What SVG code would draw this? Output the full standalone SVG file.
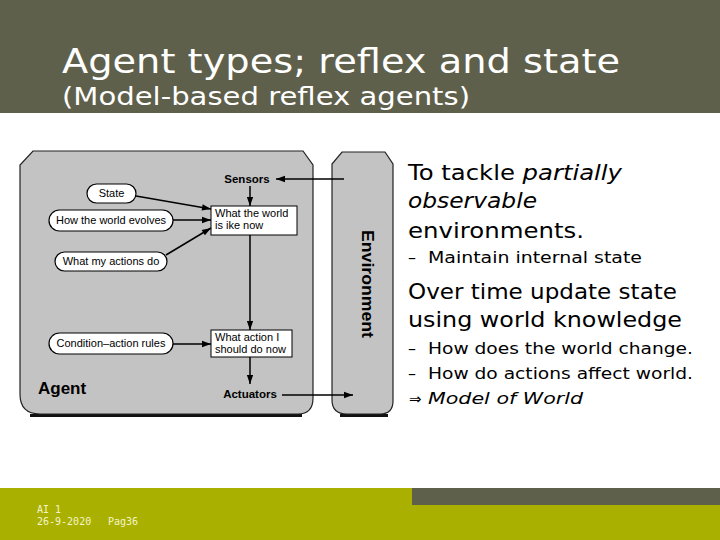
<svg xmlns="http://www.w3.org/2000/svg" width="720" height="540" viewBox="0 0 720 540">
<style>
.hdr{font-family:"DejaVu Sans",Verdana,sans-serif;fill:#ffffff}
.body{font-family:"DejaVu Sans",Verdana,sans-serif;fill:#000000}
.dg{font-family:"Liberation Sans",Arial,sans-serif;font-size:11px;fill:#000}
.dgb{font-family:"Liberation Sans",Arial,sans-serif;font-size:11.5px;font-weight:bold;fill:#000}
.oval{fill:#ffffff;stroke:#000;stroke-width:1.2}
.box{fill:#ffffff;stroke:#000;stroke-width:1}
.panel{fill:#c3c3c3;stroke:#222;stroke-width:1.2}
.conn{stroke:#000;stroke-width:1.5;fill:none;marker-end:url(#ah)}
.ft{font-family:"DejaVu Sans Mono","Liberation Mono",monospace;font-size:10px;fill:#f4f4c8}
</style>
<defs>
<marker id="ah" viewBox="0 0 10 10" refX="10" refY="5" markerWidth="7" markerHeight="6" markerUnits="strokeWidth" orient="auto">
<path d="M0,1.5 L10,5 L0,8.5 Z" fill="#000"/>
</marker>
</defs>
<rect width="720" height="540" fill="#ffffff"/>
<rect x="0" y="0" width="720" height="113" fill="#5f604b"/>
<text class="hdr" x="62" y="73" font-size="34" textLength="558" lengthAdjust="spacingAndGlyphs">Agent types; reflex and state</text>
<text class="hdr" x="62" y="105" font-size="24" textLength="408" lengthAdjust="spacingAndGlyphs">(Model-based reflex agents)</text>

<g id="agent">
<path d="M30,415.5 L302,415.5" stroke="#111" stroke-width="3"/>
<path class="panel" d="M33,151 L303,151 L313,165 L313,398 Q313,414 298,414 L40,414 Q20,414 20,394 L20,165 Z"/>
<text x="38" y="394" font-family="Liberation Sans,Arial,sans-serif" font-size="17" font-weight="bold">Agent</text>
</g>
<g id="environment">
<path d="M340,415.5 L388,415.5" stroke="#111" stroke-width="3"/>
<path class="panel" d="M342,152 L385,152 L393,164 L393,401 Q393,414 380,414 L347,414 Q332,414 332,400 L332,164 Z"/>
<text transform="translate(362,284) rotate(90)" text-anchor="middle" font-family="Liberation Sans,Arial,sans-serif" font-size="17" font-weight="bold" textLength="108" lengthAdjust="spacingAndGlyphs">Environment</text>
</g>

<g id="sensors"><text class="dgb" x="247" y="183" text-anchor="middle">Sensors</text></g>
<g id="actuators"><text class="dgb" x="250" y="398" text-anchor="middle">Actuators</text></g>
<g id="world-now">
<rect class="box" x="211" y="206" width="86" height="29"/>
<text class="dg" x="215" y="217">What the world</text>
<text class="dg" x="215" y="229">is  ike now</text>
</g>
<g id="action-now">
<rect class="box" x="211" y="330" width="81" height="27"/>
<text class="dg" x="215" y="341">What action I</text>
<text class="dg" x="215" y="353">should do now</text>
</g>
<g id="state">
<rect class="oval" x="87" y="184" width="49" height="19" rx="9.5"/>
<text class="dg" x="111.5" y="197" text-anchor="middle">State</text>
</g>
<g id="evolves">
<rect class="oval" x="49" y="210" width="124" height="21" rx="10.5"/>
<text class="dg" x="111" y="224" text-anchor="middle">How the world evolves</text>
</g>
<g id="actions-do">
<rect class="oval" x="55" y="252" width="112" height="19" rx="9.5"/>
<text class="dg" x="111" y="265" text-anchor="middle">What my actions do</text>
</g>
<g id="rules">
<rect class="oval" x="49" y="333" width="124" height="21" rx="10.5"/>
<text class="dg" x="111" y="347" text-anchor="middle">Condition–action rules</text>
</g>

<g id="connectors">
<line class="conn" x1="344" y1="179" x2="276" y2="179"/>
<line class="conn" x1="250" y1="186" x2="250" y2="206"/>
<line class="conn" x1="136" y1="196" x2="211" y2="209"/>
<line class="conn" x1="173" y1="220" x2="211" y2="220"/>
<line class="conn" x1="166" y1="255" x2="211" y2="228"/>
<line class="conn" x1="250" y1="235" x2="250" y2="330"/>
<line class="conn" x1="173" y1="344" x2="211" y2="344"/>
<line class="conn" x1="250" y1="357" x2="250" y2="384"/>
<line class="conn" x1="282" y1="395" x2="353" y2="395"/>
</g>

<g id="bullets">
<text class="body" x="408" y="180" font-size="22" textLength="214" lengthAdjust="spacingAndGlyphs">To tackle <tspan font-style="italic">partially</tspan></text>
<text class="body" x="408" y="208" font-size="22" font-style="italic" textLength="129" lengthAdjust="spacingAndGlyphs">observable</text>
<text class="body" x="408" y="238" font-size="22" textLength="176" lengthAdjust="spacingAndGlyphs">environments.</text>
<text class="body" x="408" y="263" font-size="16">–</text>
<text class="body" x="428" y="263" font-size="16" textLength="214" lengthAdjust="spacingAndGlyphs">Maintain internal state</text>
<text class="body" x="408" y="299" font-size="22" textLength="269" lengthAdjust="spacingAndGlyphs">Over time update state</text>
<text class="body" x="408" y="327" font-size="22" textLength="274" lengthAdjust="spacingAndGlyphs">using world knowledge</text>
<text class="body" x="408" y="354" font-size="16">–</text>
<text class="body" x="428" y="354" font-size="16" textLength="265" lengthAdjust="spacingAndGlyphs">How does the world change.</text>
<text class="body" x="408" y="379" font-size="16">–</text>
<text class="body" x="428" y="379" font-size="16" textLength="265" lengthAdjust="spacingAndGlyphs">How do actions affect world.</text>
<text class="body" x="409" y="404" font-size="15">⇒</text>
<text class="body" x="428" y="404" font-size="16" font-style="italic" textLength="155" lengthAdjust="spacingAndGlyphs">Model of World</text>
</g>

<rect x="0" y="488" width="720" height="52" fill="#aab000"/>
<rect x="412" y="488" width="308" height="17" fill="#5f604b"/>
<text class="ft" x="37" y="513">AI 1</text>
<text class="ft" x="37" y="525">26-9-2020</text>
<text class="ft" x="108" y="525">Pag36</text>
</svg>
